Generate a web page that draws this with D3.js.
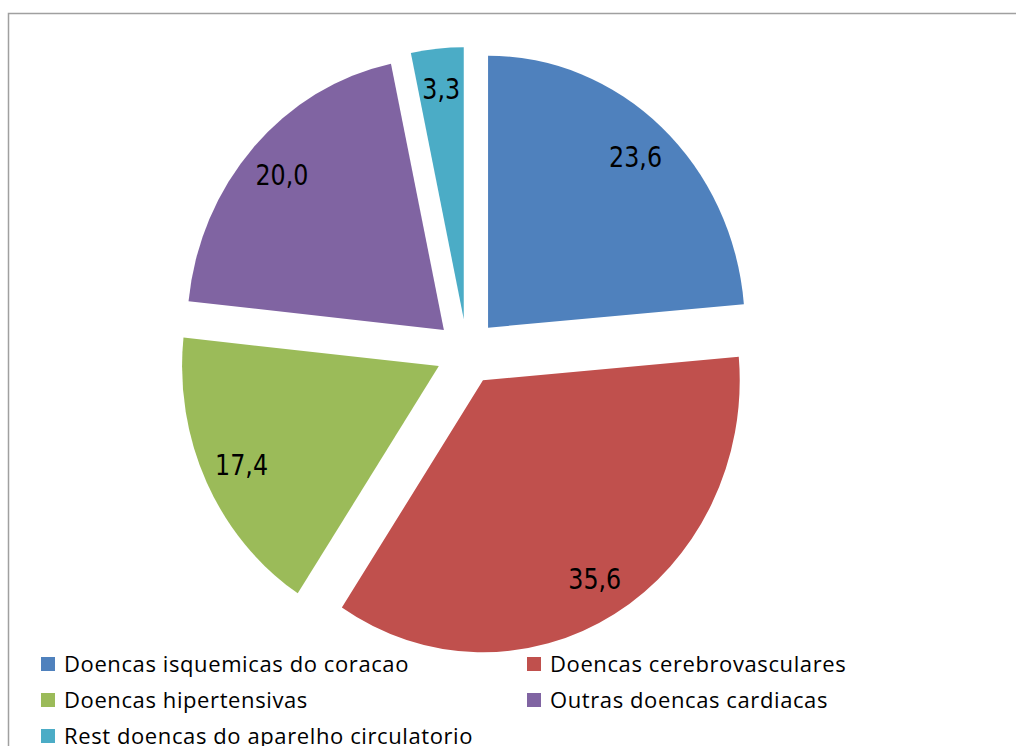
<!DOCTYPE html>
<html>
<head>
<meta charset="utf-8">
<script src="https://cdnjs.cloudflare.com/ajax/libs/d3/7.8.5/d3.min.js"></script>
<style>
  body { margin: 0; background: #fff; }
  svg { display: block; }
</style>
</head>
<body>
<svg id="chart" width="1016" height="746"></svg>
<script>
// Data
const categories = [
    "Doencas isquemicas do coracao",
    "Doencas cerebrovasculares",
    "Doencas hipertensivas",
    "Outras doencas cardiacas",
    "Rest doencas do aparelho circulatorio"
];
const values = [23.6, 35.6, 17.4, 20.0, 3.3];
const colors = ["#4F81BD", "#C0504D", "#9BBB59", "#8064A2", "#4BACC6"];

const svg = d3.select("#chart");

// chart area border (only top and left are inside the picture)
svg.append("rect")
    .attr("x", 8.5).attr("y", 13.5)
    .attr("width", 1040).attr("height", 760)
    .attr("fill", "none")
    .attr("stroke", "#a0a0a0")
    .attr("stroke-width", 1.5);

// pie geometry (the original pie is a bit narrower than tall)
const cx = 467, cy = 352;
const radius = 272;
const squeeze = 0.944;
const explode = 33;

const pie = d3.pie().sort(null).value(d => d.value);
const arc = d3.arc().innerRadius(0).outerRadius(radius);
const labelArc = d3.arc().innerRadius(radius * 0.85).outerRadius(radius * 0.85);

const data = categories.map((c, i) => ({ name: c, value: values[i], color: colors[i] }));
const arcs = pie(data);

const g = svg.append("g")
    .attr("transform", "translate(" + cx + "," + cy + ") scale(" + squeeze + ",1)");

function offset(d) {
    const mid = (d.startAngle + d.endAngle) / 2;
    return [Math.sin(mid) * explode, -Math.cos(mid) * explode];
}

// slices, each pushed out along its middle angle
const slices = g.selectAll("g.slice")
    .data(arcs).enter()
    .append("g")
    .attr("class", "slice")
    .attr("transform", d => "translate(" + offset(d) + ")");

slices.append("path")
    .attr("d", arc)
    .attr("fill", d => d.data.color);

// value labels
slices.append("text")
    .attr("transform", d => "translate(" + labelArc.centroid(d) + ")")
    .attr("text-anchor", "middle")
    .attr("dy", "0.36em")
    .style("font-family", "'DejaVu Sans Condensed', 'DejaVu Sans', sans-serif")
    .style("font-size", "28px")
    .attr("fill", "#000")
    .text(d => d.data.value.toFixed(1).replace(".", ","));

// Legend
const legend = svg.append("g");
const legendX = [41, 527];
const legendY0 = 664, legendStep = 36;

const items = legend.selectAll("g.item")
    .data(data).enter()
    .append("g")
    .attr("class", "item")
    .attr("transform", function (d, i) {
        return "translate(" + legendX[i % 2] + "," + (legendY0 + Math.floor(i / 2) * legendStep) + ")";
    });

items.append("rect")
    .attr("x", 0).attr("y", -7)
    .attr("width", 14).attr("height", 14)
    .attr("fill", d => d.color);

items.append("text")
    .attr("x", 23)
    .attr("y", 8)
    .style("font-family", "'Open Sans', sans-serif")
    .style("font-size", "22px")
    .style("letter-spacing", "0.6px")
    .attr("fill", "#000")
    .text(d => d.name);
</script>
</body>
</html>
